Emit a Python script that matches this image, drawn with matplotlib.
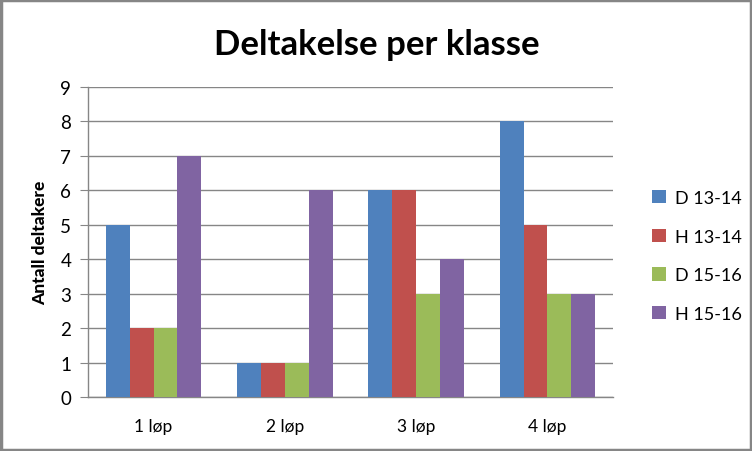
import matplotlib
matplotlib.use("Agg")
import matplotlib.pyplot as plt
from matplotlib.patches import Rectangle, Patch
import numpy as np

categories = ["1 løp", "2 løp", "3 løp", "4 løp"]
series_names = ["D 13-14", "H 13-14", "D 15-16", "H 15-16"]
d_13_14 = [5, 1, 6, 8]
h_13_14 = [2, 1, 6, 5]
d_15_16 = [2, 1, 3, 3]
h_15_16 = [7, 6, 4, 3]
colors = ["#4F81BD", "#C0504D", "#9BBB59", "#8064A2"]

plt.rcParams['font.family'] = ['Lato', 'DejaVu Sans']

fig = plt.figure(figsize=(7.52, 4.52), dpi=100)
ax = fig.add_axes([88/752, 54/452, (613-88)/752, (398-88)/452])

series = [d_13_14, h_13_14, d_15_16, h_15_16]
x = np.arange(len(categories))
bw = 1/5.5
for i, (vals, c) in enumerate(zip(series, colors)):
    ax.bar(x + (i - 1.5) * bw, vals, width=bw, color=c, zorder=3)

ax.set_xlim(-0.5, 3.5)
ax.set_ylim(0, 9)
ax.set_yticks(range(0, 10))
ax.set_xticks(x)
ax.set_xticklabels(categories, fontsize=12.5)
ax.tick_params(axis='y', labelsize=13.5, length=6, color="#868686", pad=6)
ax.tick_params(axis='x', length=0, pad=15)
ax.yaxis.grid(True, color="#868686", linewidth=1, zorder=0)
for s in ["top", "right"]:
    ax.spines[s].set_visible(False)
for s in ["left", "bottom"]:
    ax.spines[s].set_color("#868686")
    ax.spines[s].set_linewidth(1)
ax.set_ylabel("Antall deltakere", fontsize=12.5, fontweight="black", labelpad=9)

fig.text(377/752, 1 - 45/452, "Deltakelse per klasse", ha="center", va="center",
         fontsize=25, fontweight="bold")

handles = [Patch(facecolor=c, label=n) for c, n in zip(colors, series_names)]
fig.legend(handles=handles, loc="center left", bbox_to_anchor=(636/752, 1 - 257/452),
           frameon=False, fontsize=13, handlelength=0.75, handleheight=0.75,
           labelspacing=1.25, handletextpad=0.5)

fig.add_artist(Rectangle((0.0015, 0.0025), 0.997, 0.995, transform=fig.transFigure,
                         fill=False, edgecolor="#868686", linewidth=2.5))

fig.savefig("out.png", dpi=100)
